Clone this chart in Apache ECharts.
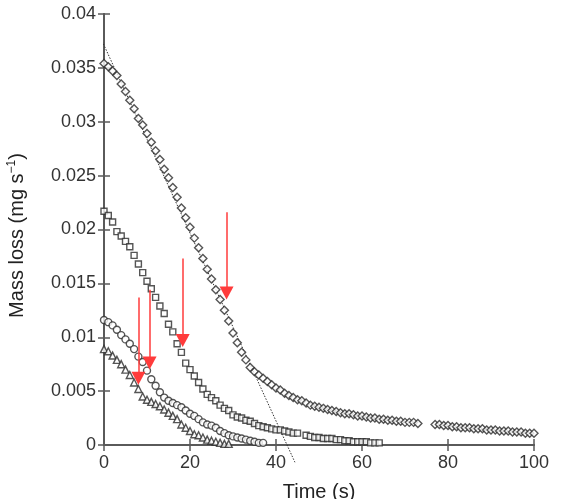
<!DOCTYPE html>
<html>
<head>
<meta charset="utf-8">
<script src="https://cdn.jsdelivr.net/npm/echarts@6/dist/echarts.min.js"></script>
<style>
  html, body { margin: 0; padding: 0; background: #fff; }
  #main { width: 561px; height: 499px; }
</style>
</head>
<body>
<div id="main"></div>
<script>
// series values: [time (s), mass loss (mg/s)]
var diamondData = [
	[0, 0.0354], [1, 0.0351], [2, 0.0347], [3, 0.0343], [4, 0.0335], [5, 0.0328], [6, 0.0320], [7, 0.0312],
	[8, 0.0303], [9, 0.0297], [10, 0.0289], [11, 0.0281], [12, 0.0273], [13, 0.0265], [14, 0.0256], [15, 0.0248],
	[16, 0.0239], [17, 0.0230], [18, 0.0220], [19, 0.0211], [20, 0.0202], [21, 0.0192], [22, 0.0183], [23, 0.0173],
	[24, 0.0163], [25, 0.0154], [26, 0.0144], [27, 0.0135], [28, 0.0125], [29, 0.0115], [30, 0.0104], [31, 0.0095],
	[32, 0.0086], [33, 0.0079], [34, 0.0072], [35, 0.0068], [36, 0.0065], [37, 0.0062], [38, 0.0059], [39, 0.0056],
	[40, 0.0053], [41, 0.0051], [42, 0.0048], [43, 0.0046], [44, 0.0044], [45, 0.0042], [46, 0.0041], [47, 0.0039],
	[48, 0.0037], [49, 0.0036], [50, 0.0035], [51, 0.0034], [52, 0.0033], [53, 0.0032], [54, 0.0031], [55, 0.0030],
	[56, 0.0029], [57, 0.0029], [58, 0.0028], [59, 0.0027], [60, 0.0027], [61, 0.0026], [62, 0.0025], [63, 0.0025],
	[64, 0.0024], [65, 0.0024], [66, 0.0023], [67, 0.0023], [68, 0.0022], [69, 0.0022], [70, 0.0021], [71, 0.0021],
	[72, 0.0021], [73, 0.0020],
	[77, 0.0019], [78, 0.0019], [79, 0.0018], [80, 0.0018], [81, 0.0017], [82, 0.0017], [83, 0.0016], [84, 0.0016],
	[85, 0.0016], [86, 0.0015], [87, 0.0015], [88, 0.0015], [89, 0.0014], [90, 0.0014], [91, 0.0014], [92, 0.0013],
	[93, 0.0013], [94, 0.0013], [95, 0.0012], [96, 0.0012], [97, 0.0012], [98, 0.0011], [99, 0.0011], [100, 0.0011]
];
var squareData = [
	[0, 0.0217], [1, 0.0213], [2, 0.0207], [3, 0.0198], [4, 0.0194], [5, 0.0189], [6, 0.0184], [7, 0.0176],
	[8, 0.0168], [9, 0.0160], [10, 0.0152], [11, 0.0145], [12, 0.0137], [13, 0.0129], [14, 0.0122], [15, 0.0112],
	[16, 0.0105], [17, 0.0094], [18, 0.0086], [19, 0.0076], [20, 0.0070], [21, 0.0064], [22, 0.0058], [23, 0.0052],
	[24, 0.0047], [25, 0.0044], [26, 0.0041], [27, 0.0037], [28, 0.0034], [29, 0.0032], [30, 0.0028], [31, 0.0026],
	[32, 0.0025], [33, 0.0023], [34, 0.0022], [35, 0.0020], [36, 0.0018], [37, 0.0017], [38, 0.0016], [39, 0.0015],
	[40, 0.0014], [41, 0.0014], [42, 0.0013], [43, 0.0012], [44, 0.0011], [45, 0.0011],
	[47, 0.0009], [48, 0.0008], [49, 0.0007], [50, 0.0007], [51, 0.0006], [52, 0.0006], [53, 0.0006], [54, 0.0005],
	[55, 0.0005], [56, 0.0004], [57, 0.0004], [58, 0.0003], [59, 0.0003], [60, 0.0003], [61, 0.0003], [62, 0.0002],
	[63, 0.0002], [64, 0.0002]
];
var circleData = [
	[0, 0.0116], [1, 0.0114], [2, 0.0111], [3, 0.0107], [4, 0.0102], [5, 0.0098], [6, 0.0094], [7, 0.0089],
	[8, 0.0082], [9, 0.0077], [10, 0.0069], [11, 0.0061], [12, 0.0055], [13, 0.0049], [14, 0.0044], [15, 0.0041],
	[16, 0.0039], [17, 0.0037], [18, 0.0035], [19, 0.0032], [20, 0.0029], [21, 0.0027], [22, 0.0024], [23, 0.0021],
	[24, 0.0019], [25, 0.0018], [26, 0.0016], [27, 0.0013], [28, 0.0011], [29, 0.0009], [30, 0.0008], [31, 0.0007],
	[32, 0.0006], [33, 0.0005], [34, 0.0004], [35, 0.0003], [36, 0.0002], [37, 0.0002]
];
var triangleData = [
	[0, 0.0089], [1, 0.0087], [2, 0.0083], [3, 0.0079], [4, 0.0075], [5, 0.0070], [6, 0.0065], [7, 0.0058],
	[8, 0.0052], [9, 0.0045], [10, 0.0042], [11, 0.0040], [12, 0.0038], [13, 0.0036], [14, 0.0033], [15, 0.0030],
	[16, 0.0027], [17, 0.0024], [18, 0.0019], [19, 0.0016], [20, 0.0013], [21, 0.0010], [22, 0.0009], [23, 0.0007],
	[24, 0.0005], [25, 0.0004], [26, 0.0003], [27, 0.0002], [28, 0.0001], [29, 0.0001]
];
// dotted fit line end points
var fitLine = [[-1.6, 0.0385], [44.4, -0.0016]];
// red arrows: [time, start value, head value]
var arrows = [[28.5, 0.0216, 0.0141], [18.3, 0.0173, 0.0097], [10.6, 0.0144, 0.0076], [8.0, 0.0137, 0.0062]];

var xTicks = [0, 20, 40, 60, 80, 100];
var yTicks = [0, 0.005, 0.01, 0.015, 0.02, 0.025, 0.03, 0.035, 0.04];

var axisColor = '#5a5a5a';
var font = 'Liberation Sans, Arial, sans-serif';

function markerSeries(data, symbol, size) {
	return {
		type: 'scatter',
		data: data,
		symbol: symbol,
		symbolSize: size,
		itemStyle: { color: '#fff', borderColor: '#2a2a2a', borderWidth: 1.4 },
		silent: true,
		z: 3
	};
}

var arrowLines = arrows.map(function(a) {
	return [{ coord: [a[0], a[1]] }, { coord: [a[0], a[2]] }];
});

var option = {
	animation: false,
	backgroundColor: '#fff',
	grid: { left: 104, right: 27, top: 14, bottom: 54, outerBoundsMode: 'none' },
	xAxis: [{
		type: 'value',
		min: xTicks[0], max: xTicks[xTicks.length - 1], interval: 20,
		name: 'Time (s)', nameLocation: 'middle', nameGap: 37,
		nameTextStyle: { fontFamily: font, fontSize: 20, color: '#222' },
		axisLine: { lineStyle: { color: axisColor, width: 2 } },
		axisTick: { inside: true, length: 6, lineStyle: { color: axisColor, width: 1.5 } },
		axisLabel: { margin: 9, fontFamily: font, fontSize: 18, color: '#333' },
		splitLine: { show: false }
	}, {
		type: 'value', position: 'top',
		min: xTicks[0], max: xTicks[xTicks.length - 1], interval: 20,
		axisLine: { lineStyle: { color: axisColor, width: 2 } },
		axisTick: { inside: true, length: 6, lineStyle: { color: axisColor, width: 1.5 } },
		axisLabel: { show: false },
		splitLine: { show: false }
	}],
	yAxis: [{
		type: 'value',
		min: yTicks[0], max: yTicks[yTicks.length - 1], interval: 0.005,
		name: 'Mass loss (mg s{sup|\u22121})', nameLocation: 'middle', nameGap: 76,
		nameTextStyle: {
			fontFamily: font, fontSize: 20, color: '#222', padding: [0, 12, 0, 0],
			rich: { sup: { fontFamily: font, fontSize: 12, color: '#222', verticalAlign: 'top', padding: [0, 0, 10, 0] } }
		},
		axisLine: { lineStyle: { color: axisColor, width: 2 } },
		axisTick: { inside: true, length: 6, lineStyle: { color: axisColor, width: 1.5 } },
		axisLabel: { margin: 8, fontFamily: font, fontSize: 18, color: '#333' },
		splitLine: { show: false }
	}, {
		type: 'value', position: 'right',
		min: yTicks[0], max: yTicks[yTicks.length - 1], interval: 0.005,
		axisLine: { lineStyle: { color: axisColor, width: 2 } },
		axisTick: { inside: true, length: 6, lineStyle: { color: axisColor, width: 1.5 } },
		axisLabel: { show: false },
		splitLine: { show: false }
	}],
	series: [
		{
			type: 'line',
			data: fitLine,
			symbol: 'none',
			clip: false,
			silent: true,
			lineStyle: { color: '#333', width: 1, type: [1.5, 1.5] },
			z: 2
		},
		markerSeries(diamondData, 'diamond', 8),
		markerSeries(squareData, 'rect', 6),
		markerSeries(circleData, 'circle', 7),
		markerSeries(triangleData, 'triangle', 7),
		{
			type: 'line',
			data: [],
			markLine: {
				silent: true,
				symbol: ['none', 'triangle'],
				symbolSize: [14, 13],
				label: { show: false },
				lineStyle: { color: '#ff3b3b', width: 1.5, type: 'solid' },
				itemStyle: { color: '#ff0000' },
				data: arrowLines
			},
			z: 5
		}
	]
};

var myChart = echarts.init(document.getElementById('main'), null, { renderer: 'canvas' });
myChart.setOption(option);
</script>
</body>
</html>
